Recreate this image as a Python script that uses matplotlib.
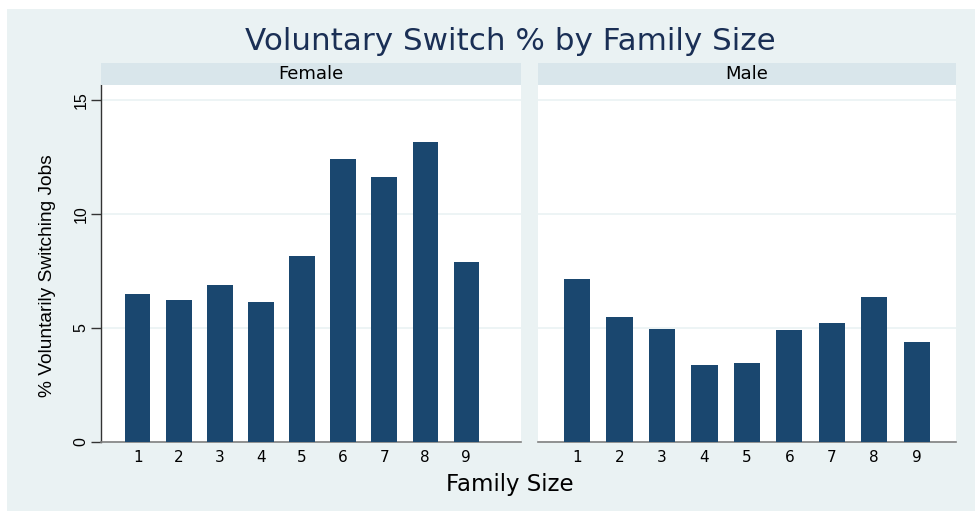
import matplotlib
matplotlib.use("Agg")
import matplotlib.pyplot as plt
from matplotlib.patches import Rectangle

plt.rcParams['font.family'] = ['DejaVu Sans']

family_size = [1, 2, 3, 4, 5, 6, 7, 8, 9]
female_pct = [6.49, 6.23, 6.87, 6.13, 8.16, 12.41, 11.62, 13.16, 7.91]
male_pct = [7.15, 5.47, 4.96, 3.38, 3.46, 4.90, 5.20, 6.36, 4.37]
panels = ["Female", "Male"]
y_ticks = [0, 5, 10, 15]

bg = '#eaf2f3'
strip_col = '#d9e6eb'
bar_col = '#1a476f'
narrow = ['Liberation Sans', 'DejaVu Sans']

W, H = 975, 511
fig = plt.figure(figsize=(W / 100, H / 100), dpi=100)
fig.patch.set_facecolor('white')
# light outer region of the graph
fig.patches.append(Rectangle((7 / W, 0), 1, 1 - 9 / H, transform=fig.transFigure,
                             facecolor=bg, edgecolor='none', zorder=-5))

def fx(px):
    return px / W

def fy(py):
    return 1 - py / H

# panel boxes in pixels: left, right
boxes = [(101, 521), (538, 956)]
xlims = [(0.107, 10.33), (0.082, 9.925)]
top, bottom, strip_top = 85, 442, 63

for i, (name, vals) in enumerate(zip(panels, [female_pct, male_pct])):
    l, r = boxes[i]
    ax = fig.add_axes([fx(l), fy(bottom), fx(r - l), fy(top) - fy(bottom)])
    ax.set_facecolor('white')
    ax.bar(family_size, vals, width=0.62, color=bar_col, edgecolor='none', zorder=3)
    ax.set_xlim(*xlims[i])
    ax.set_ylim(0, 15.66)
    ax.set_xticks(family_size)
    ax.grid(axis='y', color=bg, linewidth=1.2, zorder=0)
    ax.tick_params(axis='x', length=0, labelsize=11, pad=6, colors='black')
    for s in ['top', 'right']:
        ax.spines[s].set_visible(False)
    ax.spines['bottom'].set_color('#808080')
    ax.spines['bottom'].set_linewidth(1.2)
    if i == 0:
        ax.set_yticks(y_ticks, labels=[str(t) for t in y_ticks], rotation=90, va='center',
                      fontsize=11.5, fontfamily=narrow)
        ax.spines['left'].set_color('#333333')
        ax.spines['left'].set_linewidth(1.0)
        ax.tick_params(axis='y', length=7, width=1, color='#333333', pad=2)
        ax.set_ylabel("% Voluntarily Switching Jobs", fontsize=13.8, fontfamily=narrow)
        ax.yaxis.set_label_coords(-0.108, 0.466)
    else:
        ax.set_yticks(y_ticks)
        ax.spines['left'].set_visible(False)
        ax.tick_params(axis='y', length=0, labelleft=False)

    # strip header
    sax = fig.add_axes([fx(l), fy(top), fx(r - l), fy(strip_top) - fy(top)])
    sax.set_facecolor(strip_col)
    sax.set_xticks([])
    sax.set_yticks([])
    for s in sax.spines.values():
        s.set_visible(False)
    sax.text(0.5, 0.5, name, ha='center', va='center', fontsize=13, transform=sax.transAxes)

fig.text(fx(510), fy(41), "Voluntary Switch % by Family Size", ha='center', va='center',
         fontsize=22.3, color='#1a2f55')
fig.text(fx(510), fy(484), "Family Size", ha='center', va='center', fontsize=16.5)

fig.savefig("out.png", dpi=100, facecolor=fig.get_facecolor())
